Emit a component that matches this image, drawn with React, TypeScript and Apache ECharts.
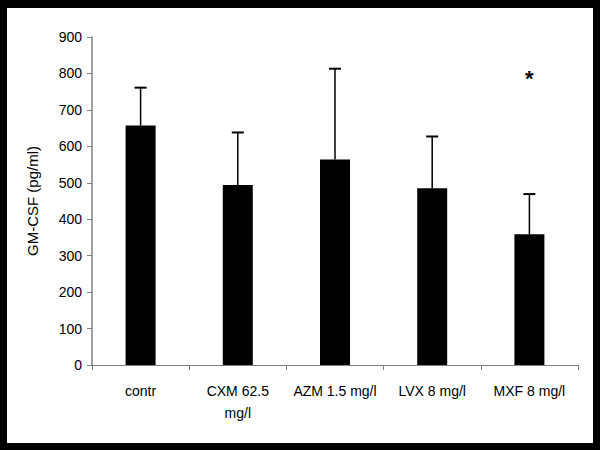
import React, { useEffect, useRef } from "react";
import * as echarts from "echarts";

const categories = ["contr", "CXM 62.5\nmg/l", "AZM 1.5 mg/l", "LVX 8 mg/l", "MXF 8 mg/l"];
const means = [657, 494, 564, 485, 359];
const upperErr = [761, 638, 813, 627, 469];
const sigIndex = [4];
const sigLevel = [786];
const yTicks = [0, 900, 100];

export default function App() {
  const ref = useRef<HTMLDivElement>(null);
  useEffect(() => {
    document.body.style.margin = "0";
    const chart = echarts.init(ref.current!, null, { renderer: "svg" });
    const font = "Liberation Sans, Arial, sans-serif";
    chart.setOption({
      animation: false,
      backgroundColor: "#ffffff",
      graphic: [
        { type: "rect", shape: { x: 0, y: 0, width: 600, height: 8 }, style: { fill: "#000" } },
        { type: "rect", shape: { x: 0, y: 443, width: 600, height: 7 }, style: { fill: "#000" } },
        { type: "rect", shape: { x: 0, y: 0, width: 7, height: 450 }, style: { fill: "#000" } },
        { type: "rect", shape: { x: 593, y: 0, width: 7, height: 450 }, style: { fill: "#000" } },
      ],
      grid: { left: 92, right: 22, top: 37, bottom: 85 },
      xAxis: {
        type: "category",
        data: categories,
        axisLine: { lineStyle: { color: "#808080", width: 1 } },
        axisTick: { show: true, length: 5, lineStyle: { color: "#808080" } },
        axisLabel: { color: "#000", fontFamily: font, fontSize: 14, margin: 15, lineHeight: 22, interval: 0 },
      },
      yAxis: {
        type: "value",
        min: yTicks[0],
        max: yTicks[1],
        interval: yTicks[2],
        name: "GM-CSF (pg/ml)",
        nameLocation: "middle",
        nameGap: 52,
        nameTextStyle: { color: "#000", fontFamily: font, fontSize: 15 },
        splitLine: { show: false },
        axisLine: { show: true, lineStyle: { color: "#808080", width: 1.5 } },
        axisTick: { show: true, length: 5, lineStyle: { color: "#808080" } },
        axisLabel: { color: "#000", fontFamily: font, fontSize: 14, margin: 10 },
      },
      series: [
        {
          type: "bar",
          data: means,
          barWidth: 30,
          itemStyle: { color: "#000" },
          z: 2,
        },
        {
          type: "custom",
          z: 3,
          data: means.map((m, i) => [i, m, upperErr[i]]),
          renderItem: (params: any, api: any) => {
            const i = api.value(0);
            const base = api.coord([i, api.value(1)]);
            const top = api.coord([i, api.value(2)]);
            const hw = 6;
            return {
              type: "group",
              children: [
                { type: "line", shape: { x1: base[0], y1: base[1], x2: top[0], y2: top[1] }, style: { stroke: "#000", lineWidth: 1.5 } },
                { type: "line", shape: { x1: top[0] - hw, y1: top[1], x2: top[0] + hw, y2: top[1] }, style: { stroke: "#000", lineWidth: 2 } },
              ],
            };
          },
        },
        {
          type: "custom",
          z: 4,
          data: sigIndex.map((idx, k) => [idx, sigLevel[k]]),
          renderItem: (params: any, api: any) => {
            const p = api.coord([api.value(0), api.value(1)]);
            return {
              type: "text",
              x: p[0],
              y: p[1],
              style: { text: "*", fill: "#000", font: "bold 22px Liberation Sans, Arial, sans-serif", align: "center", verticalAlign: "middle" },
            };
          },
        },
      ],
    });
    return () => chart.dispose();
  }, []);
  return <div ref={ref} style={{ width: 600, height: 450 }} />;
}
